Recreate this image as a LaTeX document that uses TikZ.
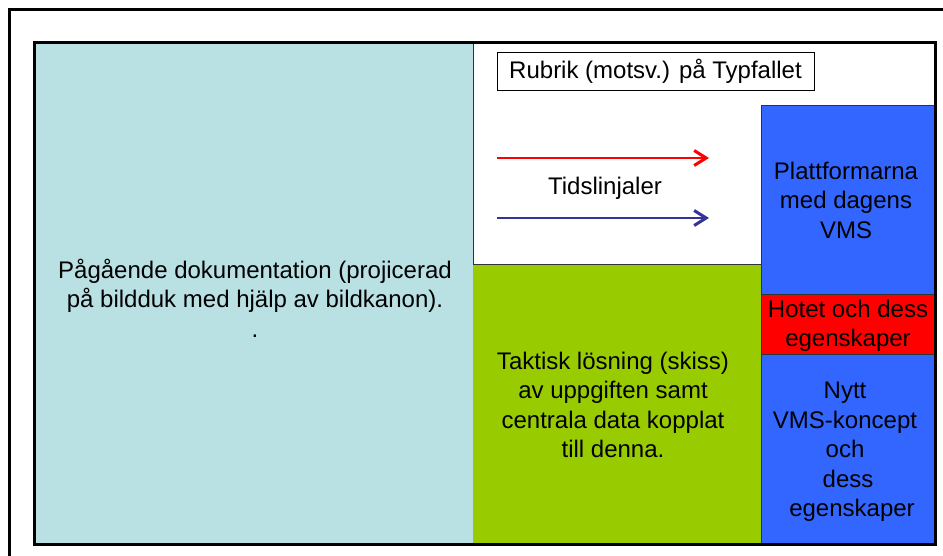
\documentclass[tikz,border=0pt]{standalone}
\usepackage{fontspec}
\setmainfont{Liberation Sans}
\usetikzlibrary{arrows.meta}
\definecolor{lblue}{HTML}{B9E0E3}
\definecolor{lgreen}{HTML}{99CC00}
\definecolor{vblue}{HTML}{3366FF}
\definecolor{vred}{HTML}{FF0000}
\definecolor{navy}{HTML}{333399}
\definecolor{edge}{HTML}{333333}
\tikzset{
  panel/.style={draw=edge, line width=0.8pt},
  lbl/.style={align=center, font=\fontsize{24}{29.5}\selectfont, inner sep=0pt},
  tline/.style={line width=2.6pt, -{Straight Barb[length=12pt,width=15pt,line width=3pt]}}
}
\begin{document}
\begin{tikzpicture}[x=1pt,y=-1pt]
\useasboundingbox (0,0) rectangle (943,556);
% outer frame (partly outside the picture)
\draw[line width=3pt] (9,556) -- (9,10) -- (943,10);
% panels
\fill[lblue] (34,43) rectangle (473,544);
\draw[panel] (473,43) -- (473,544);
\fill[lgreen] (473,264) rectangle (761,544);
\draw[panel] (473,264) -- (761,264) -- (761,544);
\fill[vblue] (761,105) rectangle (935,294);
\fill[vred] (761,294) rectangle (935,354);
\fill[vblue] (761,354) rectangle (935,544);
\draw[panel] (761,105) -- (935,105);
\draw[panel] (761,105) -- (761,544);
\draw[panel] (761,294) -- (935,294);
\draw[panel] (761,354) -- (935,354);
% inner frame
\draw[line width=3pt] (34,43) rectangle (935,544);
% title box
\node[draw, line width=0.6pt, minimum width=317pt, minimum height=38pt, inner sep=0pt,
      font=\fontsize{24}{29.5}\selectfont] (rubrik) at (655.5,71) {Rubrik (motsv.) på Typfallet};
% time lines
\coordinate (r1) at (497,158);
\coordinate (r2) at (709,158);
\coordinate (b1) at (497,218);
\coordinate (b2) at (709,218);
\draw[tline, vred] (r1) -- (r2);
\draw[tline, navy] (b1) -- (b2);
\node[lbl] (tid) at (605,188) {Tidslinjaler};
% texts
\node[lbl] (doc) at (255,298) {Pågående dokumentation (projicerad\\på bildduk med hjälp av bildkanon).\\.};
\node[lbl] (takt) at (613,405) {Taktisk lösning (skiss)\\av uppgiften samt\\centrala data kopplat\\till denna.};
\node[lbl] (plat) at (846,200) {Plattformarna\\med dagens\\VMS};
\node[lbl] (hot) at (848,326) {Hotet och dess\\egenskaper};
\node[lbl] (nytt) at (845,452) {Nytt\\VMS-koncept\\och\\\hspace{6pt}dess\\\hspace{14pt}egenskaper};
\end{tikzpicture}
\end{document}
